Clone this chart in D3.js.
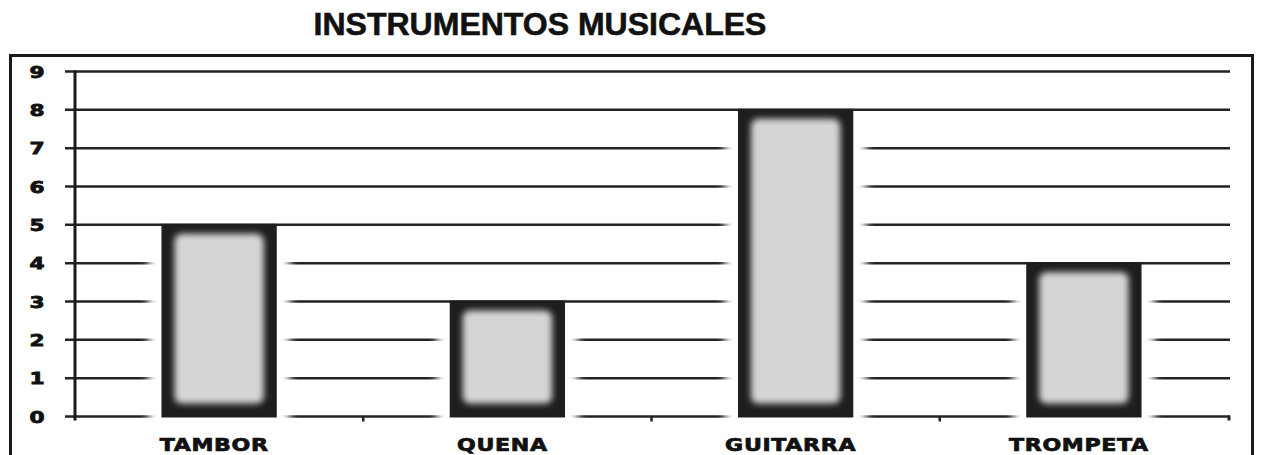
<!DOCTYPE html>
<html>
<head>
<meta charset="utf-8">
<script src="https://cdn.jsdelivr.net/npm/d3@7"></script>
<style>
  html, body { margin: 0; padding: 0; background: #ffffff; }
  svg { display: block; }
</style>
</head>
<body>
<script>
// Chart data
const categories = ["TAMBOR", "QUENA", "GUITARRA", "TROMPETA"];
const counts = [5, 3, 8, 4];
const yTicks = [0, 1, 2, 3, 4, 5, 6, 7, 8, 9];
const title = "INSTRUMENTOS MUSICALES";

const W = 1263, H = 455;
const svg = d3.select("body").append("svg")
  .attr("width", W).attr("height", H);

const defs = svg.append("defs");
defs.append("filter").attr("id", "soft")
  .attr("x", "-20%").attr("y", "-20%").attr("width", "140%").attr("height", "140%")
  .append("feGaussianBlur").attr("stdDeviation", 3);
defs.append("filter").attr("id", "halo")
  .attr("x", "-30%").attr("y", "0%").attr("width", "160%").attr("height", "100%")
  .append("feGaussianBlur").attr("stdDeviation", "4 0");

const x = d3.scaleBand()
  .domain(categories)
  .range([75, 1228])
  .paddingInner(0.6)
  .paddingOuter(0.3);

const y = d3.scaleLinear()
  .domain([0, 9])
  .range([416.5, 71.5]);

// Title
svg.append("text")
  .attr("x", 540).attr("y", 35)
  .attr("text-anchor", "middle")
  .attr("font-family", "Liberation Sans, Arial, sans-serif")
  .attr("font-weight", "bold")
  .attr("font-size", 32)
  .attr("fill", "#111")
  .attr("stroke", "#111")
  .attr("stroke-width", 0.6)
  .text(title);

// Outer frame
svg.append("rect")
  .attr("x", 10.5).attr("y", 55.5)
  .attr("width", 1242).attr("height", 420)
  .attr("fill", "none")
  .attr("stroke", "#1a1a1a")
  .attr("stroke-width", 3);

// Horizontal gridlines with tick stubs on the left
svg.append("g").selectAll("line")
  .data(yTicks)
  .join("line")
  .attr("x1", 65).attr("x2", 1230)
  .attr("y1", d => y(d)).attr("y2", d => y(d))
  .attr("stroke", "#222")
  .attr("stroke-width", 2.5);

// Y axis
svg.append("line")
  .attr("x1", 75).attr("x2", 75)
  .attr("y1", y(9) - 1).attr("y2", y(0) + 4)
  .attr("stroke", "#1a1a1a")
  .attr("stroke-width", 3);

// Category boundary ticks on the baseline
const bounds = d3.range(1, categories.length).map(i =>
  (x(categories[i - 1]) + x.bandwidth() + x(categories[i])) / 2);
svg.append("g").selectAll("line")
  .data(bounds)
  .join("line")
  .attr("x1", d => d).attr("x2", d => d)
  .attr("y1", y(0)).attr("y2", y(0) + 5)
  .attr("stroke", "#222").attr("stroke-width", 2.5);
svg.append("line")
  .attr("x1", 1229).attr("x2", 1229)
  .attr("y1", y(0) - 1).attr("y2", y(0) + 4)
  .attr("stroke", "#222").attr("stroke-width", 3);

// Y tick labels
svg.append("g").selectAll("text")
  .data(yTicks)
  .join("text")
  .attr("transform", d => `translate(37,${y(d) + 6}) scale(1.4,1)`)
  .attr("text-anchor", "middle")
  .attr("font-family", "DejaVu Sans, sans-serif")
  .attr("font-weight", "bold")
  .attr("font-size", 15.5)
  .attr("fill", "#111")
  .attr("stroke", "#111")
  .attr("stroke-width", 0.8)
  .text(d => d);

// White halo hiding gridlines beside each bar
svg.append("g").selectAll("rect")
  .data(counts)
  .join("rect")
  .attr("x", (d, i) => x(categories[i]) - 13)
  .attr("width", x.bandwidth() + 26)
  .attr("y", d => y(d) + 2)
  .attr("height", d => y(0) - y(d) + 2)
  .attr("fill", "#ffffff")
  .attr("filter", "url(#halo)");

// Bars: dark frame with a soft light-grey core
const bars = svg.append("g").selectAll("g")
  .data(counts)
  .join("g");

bars.append("rect")
  .attr("x", (d, i) => x(categories[i]))
  .attr("width", x.bandwidth())
  .attr("y", d => y(d) - 1)
  .attr("height", d => y(0) - y(d) + 2)
  .attr("fill", "#1e1e1e");

bars.append("rect")
  .attr("x", (d, i) => x(categories[i]) + 13)
  .attr("width", x.bandwidth() - 26)
  .attr("y", d => y(d) + 9)
  .attr("height", d => y(0) - y(d) - 22)
  .attr("rx", 7)
  .attr("fill", "#d5d5d5")
  .attr("filter", "url(#soft)");

// Category labels
svg.append("g").selectAll("text")
  .data(categories)
  .join("text")
  .attr("transform", d => `translate(${x(d) + x.bandwidth() / 2 - 5},451) scale(1.3,1)`)
  .attr("text-anchor", "middle")
  .attr("font-family", "DejaVu Sans, sans-serif")
  .attr("font-weight", "bold")
  .attr("font-size", 17)
  .attr("letter-spacing", 0.5)
  .attr("fill", "#111")
  .attr("stroke", "#111")
  .attr("stroke-width", 0.7)
  .text(d => d);
</script>
</body>
</html>
